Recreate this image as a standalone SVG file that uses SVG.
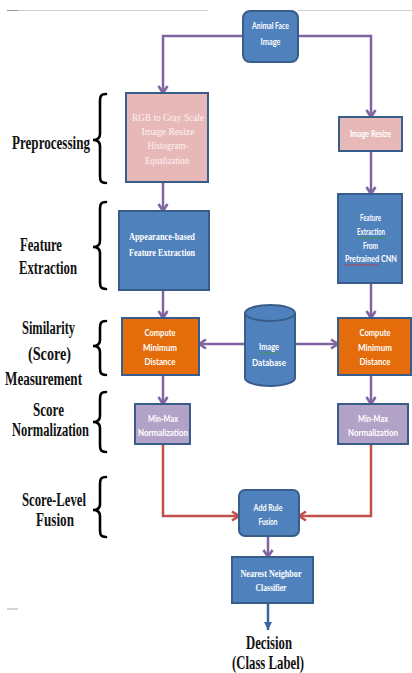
<svg xmlns="http://www.w3.org/2000/svg" width="412" height="673" viewBox="0 0 412 673">
<defs>
<style>
.blue{fill:#4f81bd;stroke:#385d8a;stroke-width:2}
.pink{fill:#e6b9b8;stroke:#385d8a;stroke-width:2}
.orange{fill:#e46c0a;stroke:#385d8a;stroke-width:2}
.lav{fill:#b3a2c7;stroke:#385d8a;stroke-width:2}
.cp{fill:none;stroke:#8064a2;stroke-width:2.5}
.cr{fill:none;stroke:#c0504d;stroke-width:2.5}
.cb{fill:none;stroke:#3a64a0;stroke-width:2.5}
.brace{fill:none;stroke:#000;stroke-width:2.6;stroke-linecap:round}
.lbl{font-family:"Liberation Serif",serif;font-weight:bold;font-size:18.5px;fill:#111}
.sans{font-family:Lato,"Liberation Sans",sans-serif;font-weight:bold;font-size:8.5px;fill:#fff;text-anchor:middle}
.serif{font-family:"Liberation Serif",serif;font-size:11px;fill:#fdf2f2;text-anchor:middle}
.serifb{font-family:"Liberation Serif",serif;font-weight:bold;font-size:10.5px;fill:#fff;text-anchor:middle}
</style>
<marker id="ap" markerUnits="userSpaceOnUse" markerWidth="12" markerHeight="12" viewBox="0 0 12 12" refX="10" refY="6" orient="auto">
<path d="M3,1.5 L10,6 L3,10.5" fill="none" stroke="#8064a2" stroke-width="2.6"/>
</marker>
<marker id="ar" markerUnits="userSpaceOnUse" markerWidth="12" markerHeight="12" viewBox="0 0 12 12" refX="10" refY="6" orient="auto">
<path d="M3,1.5 L10,6 L3,10.5" fill="none" stroke="#c0504d" stroke-width="2.6"/>
</marker>
<marker id="ab" markerUnits="userSpaceOnUse" markerWidth="10" markerHeight="10" viewBox="0 0 10 10" refX="9" refY="5" orient="auto">
<path d="M1,1 L9,5 L1,9 Z" fill="#3a64a0"/>
</marker>
</defs>
<rect width="412" height="673" fill="#fff"/>
<g id="rules">
<line x1="7" y1="10.5" x2="208" y2="10.5" stroke="#cfcfcf" stroke-width="1"/>
<line x1="7" y1="10.5" x2="18" y2="10.5" stroke="#9a9a9a" stroke-width="1"/>
<line x1="298" y1="10.5" x2="412" y2="10.5" stroke="#cfcfcf" stroke-width="1"/>
<line x1="7" y1="609" x2="18" y2="609" stroke="#aaaaaa" stroke-width="1"/>
</g>
<g id="connectors">
<path class="cp" d="M243,36 H163 V93" marker-end="url(#ap)"/>
<path class="cp" d="M298,36 H371 V117" marker-end="url(#ap)"/>
<path class="cp" d="M163,182 V211" marker-end="url(#ap)"/>
<path class="cp" d="M371,151 V194" marker-end="url(#ap)"/>
<path class="cp" d="M163,290 V318" marker-end="url(#ap)"/>
<path class="cp" d="M371,283 V318" marker-end="url(#ap)"/>
<path class="cp" d="M245,344 H199" marker-end="url(#ap)"/>
<path class="cp" d="M295,344 H338" marker-end="url(#ap)"/>
<path class="cp" d="M163,375 V404" marker-end="url(#ap)"/>
<path class="cp" d="M371,375 V404" marker-end="url(#ap)"/>
<path class="cr" d="M163,444 V516 H239" marker-end="url(#ar)"/>
<path class="cr" d="M371,444 V516 H299" marker-end="url(#ar)"/>
<path class="cp" d="M268,536 V557" marker-end="url(#ap)"/>
<path class="cb" d="M268,603 V630" marker-end="url(#ab)"/>
</g>
<g id="labels">
<text class="lbl" x="12" y="149" textLength="78" lengthAdjust="spacingAndGlyphs">Preprocessing</text>
<path class="brace" d="M106,94 C101,94 100,96 100,101 L100,134 C100,138 98,140 93,140 C98,140 100,142 100,146 L100,176 C100,181 101,183 106,183"/>
<text class="lbl" x="20" y="251" textLength="42" lengthAdjust="spacingAndGlyphs">Feature</text>
<text class="lbl" x="19" y="274" textLength="58" lengthAdjust="spacingAndGlyphs">Extraction</text>
<path class="brace" d="M106,202 C101,202 100,204 100,209 L100,241 C100,245 98,247 93,247 C98,247 100,249 100,253 L100,282 C100,287 101,289 106,289"/>
<text class="lbl" x="22" y="334" textLength="53" lengthAdjust="spacingAndGlyphs">Similarity</text>
<text class="lbl" x="28" y="360" textLength="43" lengthAdjust="spacingAndGlyphs">(Score)</text>
<text class="lbl" x="5" y="385" textLength="77" lengthAdjust="spacingAndGlyphs">Measurement</text>
<path class="brace" d="M106,321 C101,321 100,323 100,328 L100,340 C100,344 98,346 93,346 C98,346 100,348 100,352 L100,368 C100,373 101,375 106,375"/>
<text class="lbl" x="33" y="416" textLength="31" lengthAdjust="spacingAndGlyphs">Score</text>
<text class="lbl" x="12" y="436" textLength="77" lengthAdjust="spacingAndGlyphs">Normalization</text>
<path class="brace" d="M106,392 C101,392 100,394 100,399 L100,416 C100,420 98,422 93,422 C98,422 100,424 100,428 L100,445 C100,450 101,452 106,452"/>
<text class="lbl" x="22" y="506" textLength="64" lengthAdjust="spacingAndGlyphs">Score-Level</text>
<text class="lbl" x="36" y="526" textLength="38" lengthAdjust="spacingAndGlyphs">Fusion</text>
<path class="brace" d="M106,477 C101,477 100,479 100,484 L100,504 C100,508 98,510 93,510 C98,510 100,512 100,516 L100,530 C100,535 101,537 106,537"/>
<text class="lbl" x="246" y="649" textLength="46" lengthAdjust="spacingAndGlyphs">Decision</text>
<text class="lbl" x="232" y="669" textLength="72" lengthAdjust="spacingAndGlyphs">(Class Label)</text>
</g>
<g id="animal-face-image">
<rect class="blue" x="243" y="11" width="55" height="51" rx="7"/>
<text class="sans" x="270.5" y="29" textLength="37" lengthAdjust="spacingAndGlyphs">Animal Face</text>
<text class="sans" x="270.5" y="45" textLength="20" lengthAdjust="spacingAndGlyphs">Image</text>
</g>
<g id="preprocess-left">
<rect class="pink" x="126" y="93" width="82" height="89"/>
<text class="serif" x="168" y="121" textLength="72" lengthAdjust="spacingAndGlyphs">RGB to Gray Scale</text>
<text class="serif" x="168" y="135" textLength="53" lengthAdjust="spacingAndGlyphs">Image Resize</text>
<text class="serif" x="168" y="149" textLength="41" lengthAdjust="spacingAndGlyphs">Histogram-</text>
<text class="serif" x="167" y="164" textLength="44" lengthAdjust="spacingAndGlyphs">Equalization</text>
</g>
<g id="image-resize">
<rect class="pink" x="339" y="117" width="63" height="34"/>
<text class="sans" x="370.5" y="137" textLength="41" lengthAdjust="spacingAndGlyphs">Image Resize</text>
</g>
<g id="appearance-feature">
<rect class="blue" x="119" y="211" width="90" height="79"/>
<text class="serifb" x="162" y="240" textLength="66" lengthAdjust="spacingAndGlyphs">Appearance-based</text>
<text class="serifb" x="162" y="256" textLength="66" lengthAdjust="spacingAndGlyphs">Feature Extraction</text>
</g>
<g id="cnn-feature">
<rect class="blue" x="338" y="194" width="64" height="89"/>
<text class="sans" x="370.5" y="221" textLength="21" lengthAdjust="spacingAndGlyphs">Feature</text>
<text class="sans" x="371" y="235" textLength="28" lengthAdjust="spacingAndGlyphs">Extraction</text>
<line x1="357" y1="238" x2="385" y2="238" stroke="#3c9a3c" stroke-width="0.8"/>
<text class="sans" x="370.5" y="249" textLength="15" lengthAdjust="spacingAndGlyphs">From</text>
<text class="sans" x="371" y="262" textLength="52" lengthAdjust="spacingAndGlyphs">Pretrained CNN</text>
<line x1="345" y1="265" x2="378" y2="265" stroke="#d03030" stroke-width="0.8"/>
</g>
<g id="compute-left">
<rect class="orange" x="122" y="318" width="77" height="57"/>
<text class="sans" x="160" y="336" textLength="31" lengthAdjust="spacingAndGlyphs">Compute</text>
<text class="sans" x="160" y="351" textLength="34" lengthAdjust="spacingAndGlyphs">Minimum</text>
<text class="sans" x="160" y="365" textLength="31" lengthAdjust="spacingAndGlyphs">Distance</text>
</g>
<g id="image-database">
<path class="blue" d="M245,313 A25,8 0 0 1 295,313 L295,378 A25,8 0 0 1 245,378 Z"/>
<path d="M245,313 A25,8 0 0 0 295,313" fill="none" stroke="#385d8a" stroke-width="2"/>
<text class="sans" x="269" y="350" textLength="20" lengthAdjust="spacingAndGlyphs">Image</text>
<line x1="259" y1="353" x2="279" y2="353" stroke="#3c9a3c" stroke-width="0.8"/>
<text class="sans" x="269" y="366" fill="#dfe8f4" textLength="34" lengthAdjust="spacingAndGlyphs">Database</text>
</g>
<g id="compute-right">
<rect class="orange" x="338" y="318" width="73" height="57"/>
<text class="sans" x="375" y="336" textLength="31" lengthAdjust="spacingAndGlyphs">Compute</text>
<text class="sans" x="375" y="351" textLength="34" lengthAdjust="spacingAndGlyphs">Minimum</text>
<text class="sans" x="375" y="365" textLength="31" lengthAdjust="spacingAndGlyphs">Distance</text>
</g>
<g id="minmax-left">
<rect class="lav" x="135" y="404" width="55" height="40"/>
<text class="sans" x="163" y="422" fill="#f3eef8" textLength="30" lengthAdjust="spacingAndGlyphs">Min-Max</text>
<text class="sans" x="163" y="436" fill="#f3eef8" textLength="50" lengthAdjust="spacingAndGlyphs">Normalization</text>
</g>
<g id="minmax-right">
<rect class="lav" x="338" y="404" width="70" height="40"/>
<text class="sans" x="373" y="422" fill="#f3eef8" textLength="30" lengthAdjust="spacingAndGlyphs">Min-Max</text>
<text class="sans" x="373" y="436" fill="#f3eef8" textLength="50" lengthAdjust="spacingAndGlyphs">Normalization</text>
</g>
<g id="add-rule-fusion">
<rect class="blue" x="239" y="490" width="60" height="46" rx="6"/>
<text class="sans" x="268" y="511" textLength="29" lengthAdjust="spacingAndGlyphs">Add Rule</text>
<text class="sans" x="268" y="525" textLength="19" lengthAdjust="spacingAndGlyphs">Fusion</text>
</g>
<g id="nearest-neighbor">
<rect class="blue" x="232" y="557" width="81" height="46"/>
<text class="serifb" x="271" y="577" textLength="61" lengthAdjust="spacingAndGlyphs">Nearest Neighbor</text>
<text class="serifb" x="271" y="591" textLength="31" lengthAdjust="spacingAndGlyphs">Classifier</text>
</g>
</svg>
